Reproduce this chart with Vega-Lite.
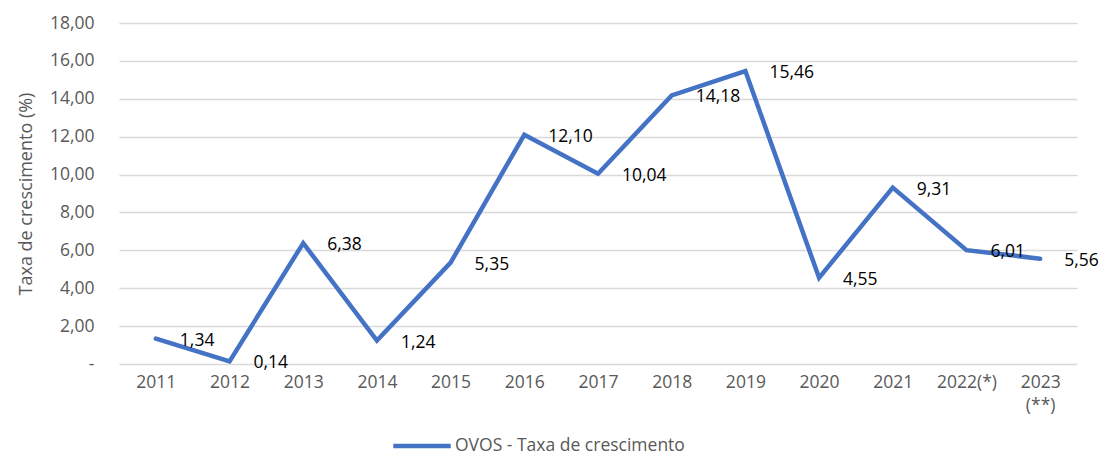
{
  "$schema": "https://vega.github.io/schema/vega-lite/v6.json",
  "width": 958,
  "height": 341,
  "autosize": {"type": "none"},
  "padding": {"left": 119, "top": 23, "right": 24, "bottom": 92},
  "background": "white",
  "config": {
    "view": {"stroke": null},
    "font": "Open Sans",
    "locale": {"number": {"decimal": ",", "thousands": ".", "grouping": [3], "currency": ["R$", ""]}}
  },
  "data": {
    "values": [
      {"ano": "2011", "taxa": 1.34, "serie": "OVOS - Taxa de crescimento"},
      {"ano": "2012", "taxa": 0.14, "serie": "OVOS - Taxa de crescimento"},
      {"ano": "2013", "taxa": 6.38, "serie": "OVOS - Taxa de crescimento"},
      {"ano": "2014", "taxa": 1.24, "serie": "OVOS - Taxa de crescimento"},
      {"ano": "2015", "taxa": 5.35, "serie": "OVOS - Taxa de crescimento"},
      {"ano": "2016", "taxa": 12.10, "serie": "OVOS - Taxa de crescimento"},
      {"ano": "2017", "taxa": 10.04, "serie": "OVOS - Taxa de crescimento"},
      {"ano": "2018", "taxa": 14.18, "serie": "OVOS - Taxa de crescimento"},
      {"ano": "2019", "taxa": 15.46, "serie": "OVOS - Taxa de crescimento"},
      {"ano": "2020", "taxa": 4.55, "serie": "OVOS - Taxa de crescimento"},
      {"ano": "2021", "taxa": 9.31, "serie": "OVOS - Taxa de crescimento"},
      {"ano": "2022(*)", "taxa": 6.01, "serie": "OVOS - Taxa de crescimento"},
      {"ano": "2023 (**)", "taxa": 5.56, "serie": "OVOS - Taxa de crescimento"}
    ]
  },
  "encoding": {
    "x": {
      "field": "ano", "type": "ordinal", "sort": null,
      "scale": {"type": "point", "padding": 0.5},
      "axis": {
        "title": null, "domain": false, "ticks": false, "grid": false,
        "labelAngle": 0, "labelFontSize": 17.5, "labelColor": "#595959",
        "labelPadding": 9, "labelLineHeight": 23,
        "labelExpr": "datum.value == '2023 (**)' ? ['2023', '(**)'] : datum.value"
      }
    },
    "y": {
      "field": "taxa", "type": "quantitative",
      "scale": {"domain": [0, 18]},
      "axis": {
        "title": "Taxa de crescimento (%)", "titleFontSize": 18, "titleFontWeight": "normal",
        "titleColor": "#595959", "titlePadding": 14,
        "values": [0, 2, 4, 6, 8, 10, 12, 14, 16, 18],
        "format": ".2f",
        "labelExpr": "datum.value == 0 ? '-' : datum.label",
        "labelFontSize": 17.5, "labelColor": "#595959", "labelPadding": 25,
        "domain": false, "ticks": false, "grid": true, "gridColor": "#d9d9d9", "gridWidth": 1.3
      }
    }
  },
  "layer": [
    {
      "mark": {"type": "line", "strokeWidth": 4.5, "strokeCap": "round", "strokeJoin": "miter"},
      "encoding": {
        "color": {
          "field": "serie", "type": "nominal",
          "scale": {"range": ["#4472C4"]},
          "legend": {
            "title": null, "orient": "none", "legendX": 272, "legendY": 392, "padding": 0,
            "symbolType": "stroke", "symbolSize": 3300, "symbolStrokeWidth": 4.5,
            "labelFontSize": 17.5, "labelColor": "#595959", "labelOffset": 2, "labelLimit": 500
          }
        }
      }
    },
    {
      "mark": {"type": "text", "align": "left", "baseline": "middle", "dx": 24, "dy": 2, "fontSize": 17.5, "color": "#000000"},
      "encoding": {
        "text": {"field": "taxa", "type": "quantitative", "format": ".2f"}
      }
    }
  ]
}
